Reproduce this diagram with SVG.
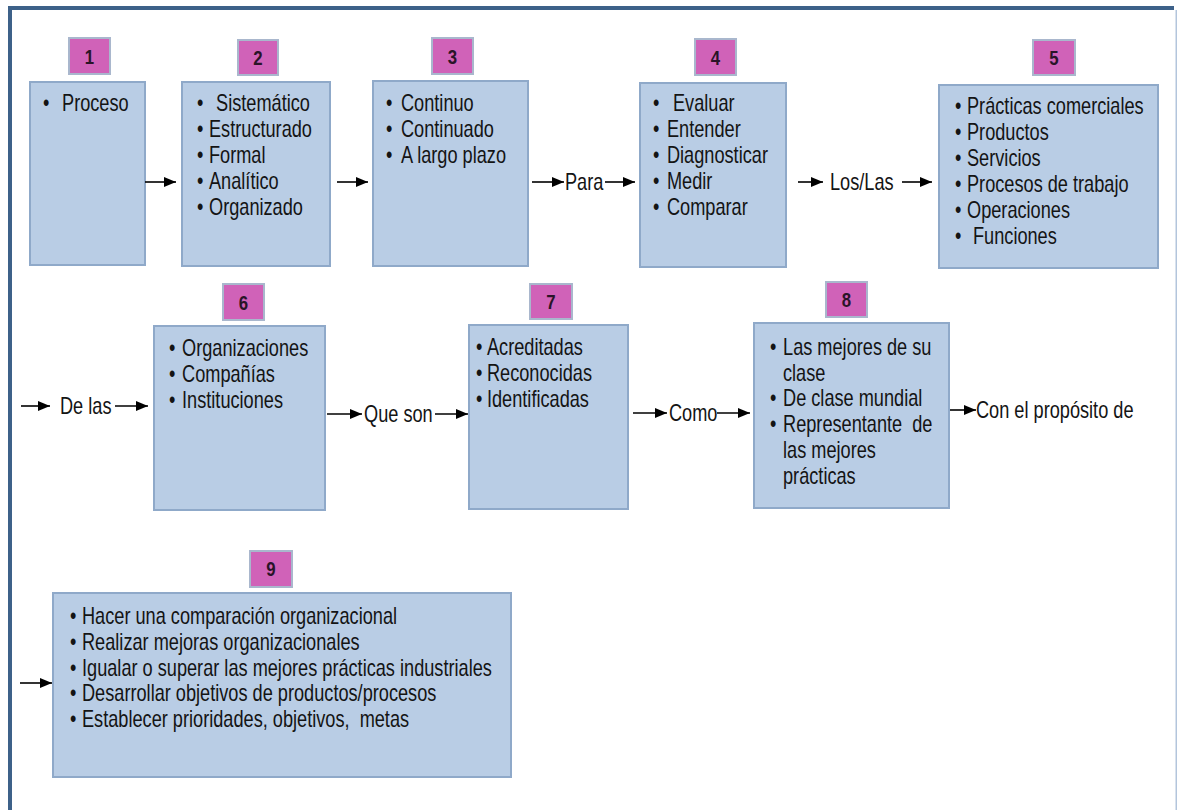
<svg xmlns="http://www.w3.org/2000/svg" width="1178" height="810" viewBox="0 0 1178 810">
<style>
.box{fill:#B9CDE5;stroke:#8FA9C9;stroke-width:2}
.badge{fill:#D062B8;stroke:#A9B7CD;stroke-width:2}
.t{font-family:"Liberation Sans",Arial,sans-serif;font-size:23px;fill:#141414}
.num{font-family:"Liberation Sans",Arial,sans-serif;font-size:21px;font-weight:bold;fill:#2a1428;text-anchor:middle}
.conn line{stroke:#000;stroke-width:1.6;marker-end:url(#ah)}
</style>
<defs>
<marker id="ah" markerUnits="userSpaceOnUse" markerWidth="12" markerHeight="10" refX="12" refY="5" orient="auto">
<path d="M0,0 L12,5 L0,10 z" fill="#000"/>
</marker>
</defs>
<rect width="1178" height="810" fill="#fff"/>
<g id="frame">
<rect x="8" y="6" width="1166" height="4" fill="#3D6189"/>
<rect x="8" y="6" width="4" height="804" fill="#3D6189"/>
<rect x="1175.5" y="10" width="1.5" height="800" fill="#B3C5DC"/>
</g>
<g id="n1">
<rect class="badge" x="69" y="38" width="41" height="36"/><text class="num" transform="translate(89.5,63.5) scale(0.8,1)">1</text>
<rect class="box" x="30" y="82" width="115" height="183"/>
<text class="t" transform="translate(43,111) scale(0.79,1)">•<tspan x="24.1">Proceso</tspan></text>
</g>
<g id="n2">
<rect class="badge" x="238" y="40" width="40" height="35"/><text class="num" transform="translate(258,64.5) scale(0.8,1)">2</text>
<rect class="box" x="182" y="82" width="148" height="184"/>
<text class="t" transform="translate(197,111) scale(0.79,1)">•<tspan x="24.1">Sistemático</tspan></text>
<text class="t" transform="translate(197,137) scale(0.79,1)">•<tspan x="15.2">Estructurado</tspan></text>
<text class="t" transform="translate(197,163) scale(0.79,1)">•<tspan x="15.2">Formal</tspan></text>
<text class="t" transform="translate(197,189) scale(0.79,1)">•<tspan x="15.2">Analítico</tspan></text>
<text class="t" transform="translate(197,215) scale(0.79,1)">•<tspan x="15.2">Organizado</tspan></text>
</g>
<g id="n3">
<rect class="badge" x="432" y="38" width="41" height="36"/><text class="num" transform="translate(452.5,63.5) scale(0.8,1)">3</text>
<rect class="box" x="373" y="81" width="155" height="185"/>
<text class="t" transform="translate(386,111) scale(0.79,1)">•<tspan x="19">Continuo</tspan></text>
<text class="t" transform="translate(386,137) scale(0.79,1)">•<tspan x="19">Continuado</tspan></text>
<text class="t" transform="translate(386,163) scale(0.79,1)">•<tspan x="19">A largo plazo</tspan></text>
</g>
<g id="n4">
<rect class="badge" x="695" y="39" width="41" height="36"/><text class="num" transform="translate(715.5,64.5) scale(0.8,1)">4</text>
<rect class="box" x="640" y="83" width="146" height="184"/>
<text class="t" transform="translate(653,111) scale(0.79,1)">•<tspan x="25.3">Evaluar</tspan></text>
<text class="t" transform="translate(653,137) scale(0.79,1)">•<tspan x="17.7">Entender</tspan></text>
<text class="t" transform="translate(653,163) scale(0.79,1)">•<tspan x="17.7">Diagnosticar</tspan></text>
<text class="t" transform="translate(653,189) scale(0.79,1)">•<tspan x="17.7">Medir</tspan></text>
<text class="t" transform="translate(653,215) scale(0.79,1)">•<tspan x="17.7">Comparar</tspan></text>
</g>
<g id="n5">
<rect class="badge" x="1033" y="40" width="42" height="35"/><text class="num" transform="translate(1054,64.5) scale(0.8,1)">5</text>
<rect class="box" x="939" y="85" width="219" height="183"/>
<text class="t" transform="translate(955,114) scale(0.79,1)">•<tspan x="15.2">Prácticas comerciales</tspan></text>
<text class="t" transform="translate(955,140) scale(0.79,1)">•<tspan x="15.2">Productos</tspan></text>
<text class="t" transform="translate(955,166) scale(0.79,1)">•<tspan x="15.2">Servicios</tspan></text>
<text class="t" transform="translate(955,192) scale(0.79,1)">•<tspan x="15.2">Procesos de trabajo</tspan></text>
<text class="t" transform="translate(955,218) scale(0.79,1)">•<tspan x="15.2">Operaciones</tspan></text>
<text class="t" transform="translate(955,244) scale(0.79,1)">•<tspan x="22.8">Funciones</tspan></text>
</g>
<g id="n6">
<rect class="badge" x="223" y="284" width="41" height="36"/><text class="num" transform="translate(243.5,309.5) scale(0.8,1)">6</text>
<rect class="box" x="154" y="326" width="171" height="184"/>
<text class="t" transform="translate(169,356) scale(0.79,1)">•<tspan x="16.5">Organizaciones</tspan></text>
<text class="t" transform="translate(169,382) scale(0.79,1)">•<tspan x="16.5">Compañías</tspan></text>
<text class="t" transform="translate(169,408) scale(0.79,1)">•<tspan x="16.5">Instituciones</tspan></text>
</g>
<g id="n7">
<rect class="badge" x="530" y="284" width="42" height="35"/><text class="num" transform="translate(551,308.5) scale(0.8,1)">7</text>
<rect class="box" x="469" y="325" width="159" height="184"/>
<text class="t" transform="translate(476,355) scale(0.79,1)">•<tspan x="13.9">Acreditadas</tspan></text>
<text class="t" transform="translate(476,381) scale(0.79,1)">•<tspan x="13.9">Reconocidas</tspan></text>
<text class="t" transform="translate(476,407) scale(0.79,1)">•<tspan x="13.9">Identificadas</tspan></text>
</g>
<g id="n8">
<rect class="badge" x="826" y="282" width="41" height="35"/><text class="num" transform="translate(846.5,306.5) scale(0.8,1)">8</text>
<rect class="box" x="754" y="323" width="195" height="185"/>
<text class="t" transform="translate(770,355) scale(0.79,1)">•<tspan x="16.5">Las mejores de su</tspan></text>
<text class="t" transform="translate(783,381) scale(0.79,1)">clase</text>
<text class="t" transform="translate(770,406) scale(0.79,1)">•<tspan x="16.5">De clase mundial</tspan></text>
<text class="t" transform="translate(770,432) scale(0.79,1)" xml:space="preserve">•<tspan x="16.5">Representante  de</tspan></text>
<text class="t" transform="translate(783,458) scale(0.79,1)">las mejores</text>
<text class="t" transform="translate(783,484) scale(0.79,1)">prácticas</text>
</g>
<g id="n9">
<rect class="badge" x="250" y="551" width="42" height="36"/><text class="num" transform="translate(271,575.5) scale(0.8,1)">9</text>
<rect class="box" x="53" y="593" width="458" height="184"/>
<text class="t" transform="translate(70,624) scale(0.79,1)">•<tspan x="15.2">Hacer una comparación organizacional</tspan></text>
<text class="t" transform="translate(70,650) scale(0.79,1)">•<tspan x="15.2">Realizar mejoras organizacionales</tspan></text>
<text class="t" transform="translate(70,676) scale(0.79,1)">•<tspan x="15.2">Igualar o superar las mejores prácticas industriales</tspan></text>
<text class="t" transform="translate(70,701) scale(0.79,1)">•<tspan x="15.2">Desarrollar objetivos de productos/procesos</tspan></text>
<text class="t" transform="translate(70,727) scale(0.79,1)" xml:space="preserve">•<tspan x="15.2">Establecer prioridades, objetivos,  metas</tspan></text>
</g>
<g id="labels">
<text class="t" transform="translate(565,190) scale(0.79,1)">Para</text>
<text class="t" transform="translate(830,190) scale(0.79,1)">Los/Las</text>
<text class="t" transform="translate(60,414) scale(0.79,1)">De las</text>
<text class="t" transform="translate(364,422) scale(0.79,1)">Que son</text>
<text class="t" transform="translate(669,421) scale(0.79,1)">Como</text>
<text class="t" transform="translate(976,418) scale(0.79,1)">Con el propósito de</text>
</g>
<g id="connectors" class="conn">
<line x1="145" y1="182" x2="176" y2="182"/>
<line x1="337" y1="182" x2="368" y2="182"/>
<line x1="532" y1="182" x2="564" y2="182"/>
<line x1="605" y1="182" x2="635" y2="182"/>
<line x1="798" y1="182" x2="823" y2="182"/>
<line x1="902" y1="182" x2="932" y2="182"/>
<line x1="21" y1="406" x2="50" y2="406"/>
<line x1="115" y1="406" x2="148" y2="406"/>
<line x1="327" y1="414" x2="362" y2="414"/>
<line x1="435" y1="414" x2="468" y2="414"/>
<line x1="633" y1="413" x2="667" y2="413"/>
<line x1="717" y1="413" x2="750" y2="413"/>
<line x1="950" y1="410" x2="976" y2="410"/>
<line x1="20" y1="683" x2="52" y2="683"/>
</g>
</svg>
